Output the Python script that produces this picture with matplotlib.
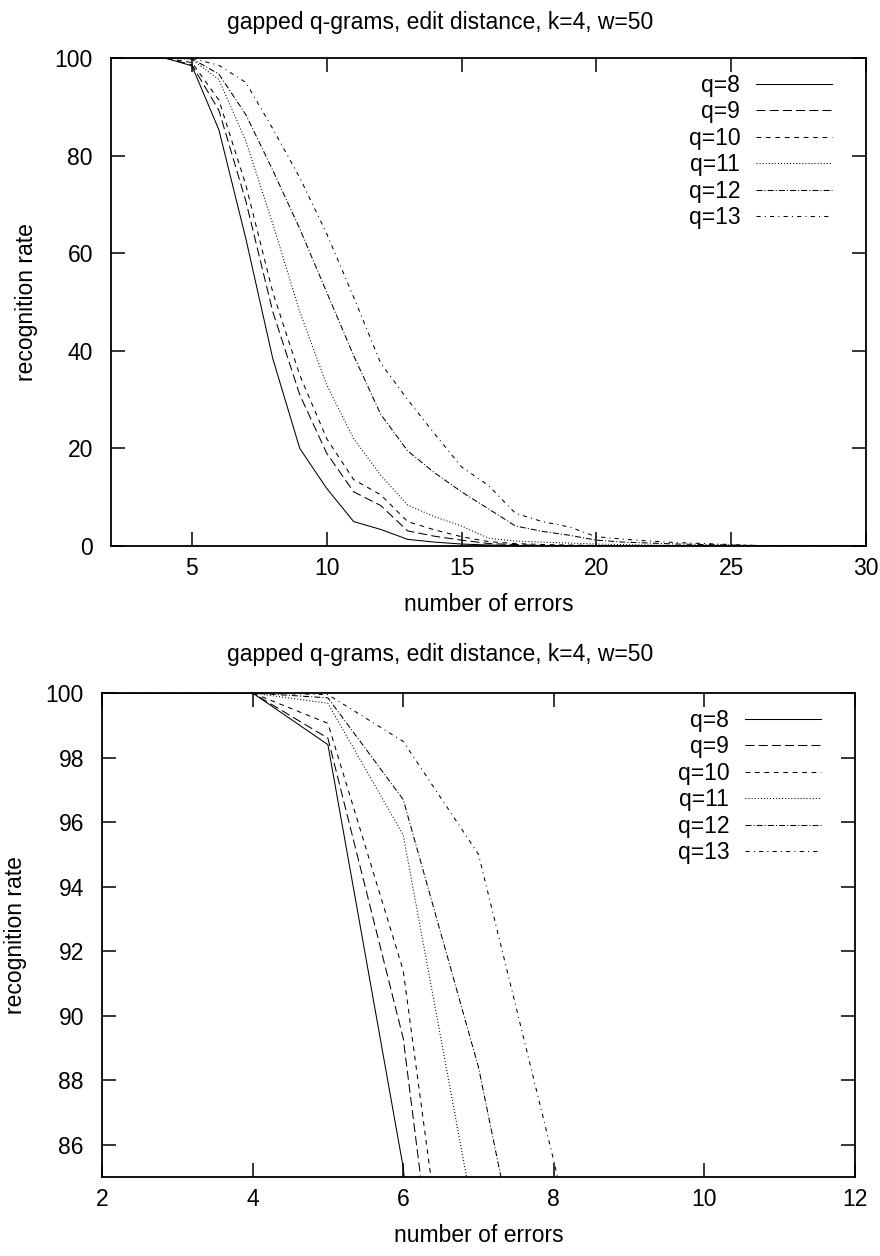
import matplotlib
matplotlib.use("Agg")
import matplotlib.pyplot as plt

plt.rcParams['font.family'] = ['Liberation Sans', 'DejaVu Sans']
plt.rcParams['font.size'] = 16.5
plt.rcParams['lines.scale_dashes'] = False

# data
errors = [2, 3, 4, 5, 6, 7, 8, 9, 10, 11, 12, 13, 14, 15, 16,
          17, 18, 19, 20, 21, 22, 23, 24, 25, 26, 27, 28, 29, 30]
q8 = [100, 100, 100, 98.4, 85.3, 63, 38.4, 20, 11.8, 5.0, 3.4, 1.36, 0.8, 0.4, 0.2,
      0.1, 0.05, 0, 0, 0, 0, 0, 0, 0, 0, 0, 0, 0, 0]
q9 = [100, 100, 100, 98.6, 89.3, 70.7, 48, 31, 19, 11.1, 8.3, 3.1, 2.0, 1.2, 0.5,
      0.3, 0.1, 0.05, 0, 0, 0, 0, 0, 0, 0, 0, 0, 0, 0]
q10 = [100, 100, 100, 99.06, 91.4, 74, 52, 35, 22, 13.6, 10.5, 5.0, 3.3, 1.9, 0.9,
       0.5, 0.3, 0.2, 0.1, 0, 0, 0, 0, 0, 0, 0, 0, 0, 0]
q11 = [100, 100, 100, 99.68, 95.6, 83, 66, 48, 33, 22, 14.5, 8.4, 6.0, 4.1, 1.6,
       1.0, 0.8, 0.6, 0.4, 0.3, 0.2, 0.1, 0.05, 0, 0, 0, 0, 0, 0]
q12 = [100, 100, 100, 99.85, 96.7, 88.4, 77, 65, 52, 39, 27, 19.5, 15, 11.1, 7.6,
       4.1, 3.0, 2.2, 1.2, 0.8, 0.6, 0.4, 0.3, 0.2, 0.1, 0, 0, 0, 0]
q13 = [100, 100, 100, 99.95, 98.5, 95.0, 85.5, 75.5, 64, 51, 37.5, 30, 23, 16.2, 12.4,
       6.7, 5.0, 3.9, 1.9, 1.4, 1.0, 0.7, 0.5, 0.3, 0.1, 0, 0, 0, 0]
labels = ['q=8', 'q=9', 'q=10', 'q=11', 'q=12', 'q=13']
series = [q8, q9, q10, q11, q12, q13]

# gnuplot-like dash patterns (points)
dashes = [None, (6.5, 3), (3.4, 3.4), (0.75, 1.45), (4.3, 1.5, 0.75, 1.5), (3, 3, 0.75, 3)]

title = 'gapped q-grams, edit distance, k=4, w=50'

W, H = 880, 1256
fig = plt.figure(figsize=(W / 100, H / 100), dpi=100)


def make_axes(left, right, top, bottom):
    return fig.add_axes([left / W, 1 - bottom / H, (right - left) / W, (bottom - top) / H])


def style(ax, hpx, wpx, ylab_x):
    for s in ax.spines.values():
        s.set_linewidth(1.3)
    ax.tick_params(direction='in', length=10, width=1.1, top=True, right=True)
    ax.tick_params(axis='y', pad=13)
    ax.tick_params(axis='x', pad=8)
    ax.set_xlabel('number of errors')
    ax.set_ylabel('recognition rate')
    ax.xaxis.set_label_coords(0.5, -47 / hpx)
    ax.yaxis.set_label_coords(ylab_x / wpx, 0.5)
    leg = ax.legend(loc='upper right', bbox_to_anchor=(1 - 34 / wpx, 1 - 16 / hpx),
                    frameon=False, markerfirst=False, handlelength=3.3,
                    handletextpad=0.7, labelspacing=0.15, borderpad=0,
                    borderaxespad=0)
    return leg


def draw(ax):
    for ys, lab, d in zip(series, labels, dashes):
        line, = ax.plot(errors, ys, color='black', linewidth=0.75, label=lab)
        if d is not None:
            line.set_dashes(d)


ax1 = make_axes(111, 866, 58, 546)
draw(ax1)
ax1.set_xlim(2, 30)
ax1.set_ylim(0, 100)
ax1.set_xticks([5, 10, 15, 20, 25, 30])
ax1.set_yticks([0, 20, 40, 60, 80, 100])
style(ax1, 488, 755, -73)
fig.text(0.5, 1 - 22 / H, title, ha='center', va='center')

ax2 = make_axes(102, 855, 693, 1177)
draw(ax2)
ax2.set_xlim(2, 12)
ax2.set_ylim(85, 100)
ax2.set_xticks([2, 4, 6, 8, 10, 12])
ax2.set_yticks([86, 88, 90, 92, 94, 96, 98, 100])
style(ax2, 484, 753, -75)
fig.text(0.5, 1 - 655 / H, title, ha='center', va='center')

fig.savefig('out.png', dpi=100)
